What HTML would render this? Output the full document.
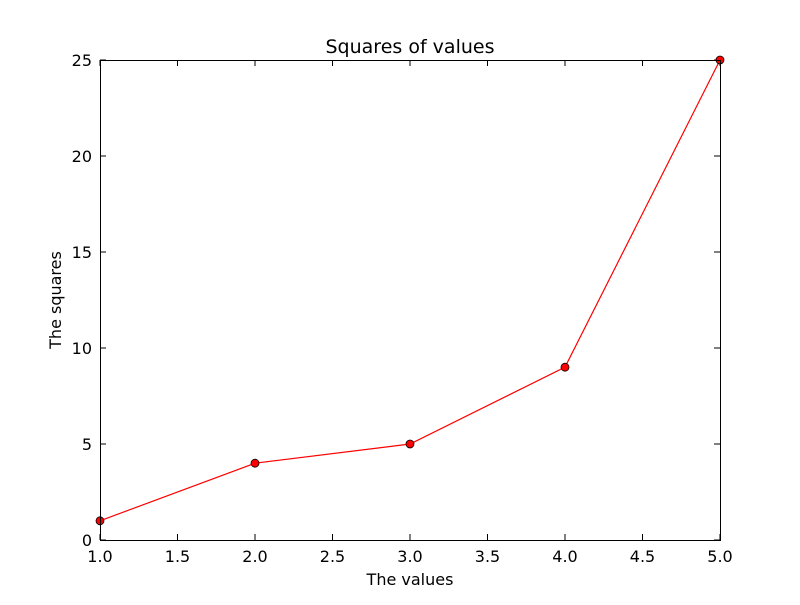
<!DOCTYPE html>
<html><head><meta charset="utf-8"><style>
body{margin:0;background:#fff}
svg text{font-family:"DejaVu Sans","Liberation Sans",sans-serif;font-size:16px;fill:#000}
</style></head><body>
<svg width="800" height="600" id="c">
<rect width="800" height="600" fill="#fff"/>
<text x="410" y="53" text-anchor="middle" style="font-size:19px">Squares of values</text>
<text x="410" y="585" text-anchor="middle">The values</text>
<text x="0" y="0" transform="translate(61,300) rotate(-90)" text-anchor="middle">The squares</text>
<g id="g"></g>
<rect x="100.5" y="60.5" width="620" height="480" fill="none" stroke="#000"/>
</svg>
<script>
const xs=[1,2,3,4,5];
const ys=[1,4,5,9,25];
const xTicks=["1.0","1.5","2.0","2.5","3.0","3.5","4.0","4.5","5.0"];
const yTicks=["0","5","10","15","20","25"];
const L=100,R=720,T=60,B=540;
const sx=v=>L+(v-1)/4*(R-L), sy=v=>B-v/25*(B-T);
const NS="http://www.w3.org/2000/svg",g=document.getElementById('g');
function mk(t,a){const e=document.createElementNS(NS,t);for(const k in a)e.setAttribute(k,a[k]);g.appendChild(e);return e;}
xTicks.forEach(t=>{const x=sx(+t);
const a=mk('line',{x1:x,x2:x,y1:B,y2:B-6,stroke:'#000'});


const b=mk('line',{x1:x,x2:x,y1:T,y2:T+6,stroke:'#000'});


const l=mk('text',{x:x,y:B+22,'text-anchor':'middle'});l.textContent=t;

});
yTicks.forEach(t=>{const y=sy(+t);
const a=mk('line',{x1:L,x2:L+6,y1:y,y2:y,stroke:'#000'});


const b=mk('line',{x1:R,x2:R-6,y1:y,y2:y,stroke:'#000'});


const l=mk('text',{x:L-8,y:y+6,'text-anchor':'end'});l.textContent=t;

});
const p=mk('polyline',{points:xs.map((x,i)=>sx(x)+','+sy(ys[i])).join(' '),fill:'none',stroke:'#f00','stroke-width':1.2});


xs.forEach((x,i)=>{const c=mk('circle',{cx:sx(x),cy:sy(ys[i]),r:4,fill:'#f00',stroke:'#000','stroke-width':0.8});

});
</script>
</body></html>
